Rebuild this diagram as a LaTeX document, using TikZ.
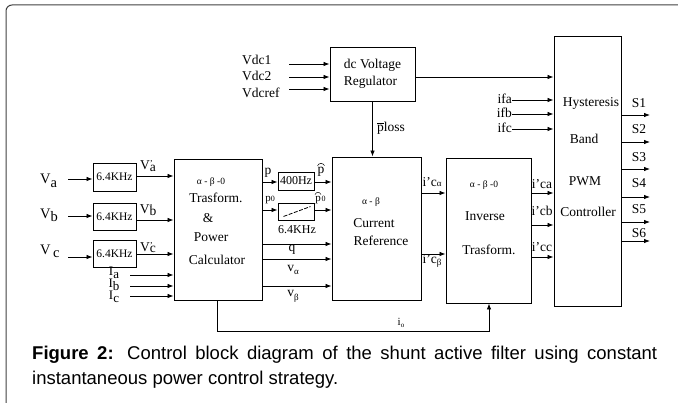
\documentclass[tikz,border=0pt]{standalone}
\usepackage{fontspec}
\usepackage{amsmath}
\setmainfont{Liberation Serif}
\newfontfamily\capfont{Liberation Sans}
\usetikzlibrary{arrows.meta}
\newcommand\dfont{\fontsize{13.5}{17}\selectfont}
\newcommand\sfontx{\fontsize{9.5}{11}\selectfont}
\begin{document}
\begin{tikzpicture}[x=1pt,y=-1pt,
  blk/.style={draw, line width=0.9pt, inner sep=0pt},
  lbl/.style={inner sep=0pt, font=\dfont},
  arr/.style={-{Latex[length=6pt,width=4.5pt]}, line width=0.8pt},
  ln/.style={line width=0.8pt},
  hat/.style={line width=0.5pt}]
\useasboundingbox (0,0) rectangle (678,403);
% frame
\draw[line width=1pt, black!75, rounded corners=6pt] (678,5) -- (6,5) -- (6,403);

% blocks
\node[blk, minimum width=85pt, minimum height=54pt, align=left, font=\dfont] (reg) at (372.5,74) {dc Voltage\\Regulator};
\node[blk, minimum width=67pt, minimum height=270pt] (pwm) at (587.5,171) {};
\node[blk, minimum width=88pt, minimum height=141pt] (ps) at (218,229.5) {};
\node[blk, minimum width=89pt, minimum height=143pt] (cr) at (376.5,228.5) {};
\node[blk, minimum width=85pt, minimum height=145pt] (inv) at (488.5,230.5) {};
\node[blk, minimum width=43pt, minimum height=28pt, font=\fontsize{11.5}{12}\selectfont] (fa) at (114.5,177) {6.4KHz};
\node[blk, minimum width=43pt, minimum height=27pt, font=\fontsize{11.5}{12}\selectfont] (fb) at (114.5,216.5) {6.4KHz};
\node[blk, minimum width=43pt, minimum height=27pt, font=\fontsize{11.5}{12}\selectfont] (fc) at (114.5,253.5) {6.4KHz};
\node[blk, minimum width=36pt, minimum height=18pt, font=\fontsize{12}{12}\selectfont] (hp) at (296,181) {400Hz};
\node[blk, minimum width=36pt, minimum height=17pt] (lp) at (296,211.5) {};
\draw[ln, dashed, dash pattern=on 4pt off 1.5pt] ([shift={(6,-4)}]lp.south west) -- ([shift={(-4,4)}]lp.north east);

% block texts
\node[lbl, font=\sfontx] (t1) at (211,182) {α - β -0};
\node[lbl] (t2) at (216,198) {Trasform.};
\node[lbl] (t3) at (208,218) {\&};
\node[lbl] (t4) at (211,237) {Power};
\node[lbl] (t5) at (217,260) {Calculator};
\node[lbl, font=\sfontx] (c1) at (371,202) {α - β};
\node[lbl] (c2) at (374,223) {Current};
\node[lbl] (c3) at (381,241) {Reference};
\node[lbl, font=\sfontx] (i1) at (484,185) {α - β -0};
\node[lbl] (i2) at (485,216) {Inverse};
\node[lbl] (i3) at (489,250) {Trasform.};
\node[lbl] (w1) at (591,103) {Hysteresis};
\node[lbl] (w2) at (584,139) {Band};
\node[lbl] (w3) at (585,181) {PWM};
\node[lbl] (w4) at (588,212) {Controller};

% top inputs
\node[lbl, anchor=west] (vdc1) at (242,60) {Vdc1};
\node[lbl, anchor=west] (vdc2) at (242,76) {Vdc2};
\node[lbl, anchor=west] (vdcr) at (242,93) {Vdcref};
\coordinate (s1) at (289,64);
\coordinate (s2) at (289,77);
\coordinate (s3) at (289,89);
\draw[arr] (s1) -- (s1 -| reg.west);
\draw[arr] (s2) -- (s2 -| reg.west);
\draw[arr] (s3) -- (s3 -| reg.west);
\coordinate (ro) at (reg.east |- 0,77);
\draw[arr] (ro) -- (ro -| pwm.west);
\draw[arr] (reg.south) -- (reg.south |- cr.north);
\node[lbl] (ploss) at (391,128) {$\overline{\text{p}}$loss};

% ifa ifb ifc
\node[lbl, anchor=east] (ifa) at (512,99) {ifa};
\node[lbl, anchor=east] (ifb) at (512,113) {ifb};
\node[lbl, anchor=east] (ifc) at (512,128) {ifc};
\coordinate (fa1) at (512,100);
\coordinate (fb1) at (512,114);
\coordinate (fc1) at (512,129);
\draw[arr] (fa1) -- (fa1 -| pwm.west);
\draw[arr] (fb1) -- (fb1 -| pwm.west);
\draw[arr] (fc1) -- (fc1 -| pwm.west);

% S outputs
\foreach \n/\ya/\yl in {1/115/103, 2/142/129, 3/169/157, 4/197/183, 5/222/209, 6/241/233}{
  \coordinate (so\n) at (650,\ya);
  \draw[arr] (so\n -| pwm.east) -- (so\n);
  \node[lbl] (sl\n) at (639,\yl) {S\n};
}

% left inputs
\node[lbl, anchor=west, font=\fontsize{14.5}{15}\selectfont] (va) at (40,181) {V\raisebox{-4pt}{a}};
\node[lbl, anchor=west, font=\fontsize{14.5}{15}\selectfont] (vb) at (40,215) {V\raisebox{-3pt}{b}};
\node[lbl, anchor=west, font=\fontsize{14.5}{15}\selectfont] (vc) at (40,251) {V\,\raisebox{-3pt}{c}};
\coordinate (ia) at (68,179);
\coordinate (ib) at (68,216);
\coordinate (ic) at (68,257);
\draw[arr] (ia) -- (ia -| fa.west);
\draw[arr] (ib) -- (ib -| fb.west);
\draw[arr] (ic) -- (ic -| fc.west);
\coordinate (oa) at (fa.east |- 0,176);
\coordinate (ob) at (fb.east |- 0,220);
\coordinate (oc) at (fc.east |- 0,254);
\draw[arr] (oa) -- (oa -| ps.west);
\draw[arr] (ob) -- (ob -| ps.west);
\draw[arr] (oc) -- (oc -| ps.west);
\node[lbl] (vpa) at (148,166) {V\rlap{\raisebox{3pt}{\small '}}\raisebox{-2pt}{a}};
\node[lbl] (vpb) at (148,210) {V\rlap{\raisebox{3pt}{\small '}}\raisebox{-2pt}{b}};
\node[lbl] (vpc) at (148,248) {V\rlap{\raisebox{3pt}{\small '}}\raisebox{-1pt}{c}};
\node[lbl, font=\fontsize{13}{13}\selectfont] (la) at (114,273) {I\raisebox{-3pt}{a}};
\node[lbl, font=\fontsize{13}{13}\selectfont] (lb) at (114,285) {I\raisebox{-3pt}{b}};
\node[lbl, font=\fontsize{13}{13}\selectfont] (lc) at (114,297) {I\raisebox{-3pt}{c}};
\coordinate (ja) at (130,275);
\coordinate (jb) at (130,286);
\coordinate (jc) at (130,296);
\draw[arr] (ja) -- (ja -| ps.west);
\draw[arr] (jb) -- (jb -| ps.west);
\draw[arr] (jc) -- (jc -| ps.west);

% transform -> filters -> current reference
\coordinate (pp) at (ps.east |- 0,182);
\draw[arr] (pp) -- (pp -| hp.west);
\draw[arr] (hp.east |- pp) -- (pp -| cr.west);
\coordinate (pz) at (ps.east |- 0,210);
\draw[arr] (pz) -- (pz -| lp.west);
\draw[arr] (lp.east |- pz) -- (pz -| cr.west);
\node[lbl] (lp1) at (268,173) {p};
\node[lbl] (lp2) at (321,172) {p};
\draw[hat] ([shift={(-3.5,-1.5)}]lp2.north) .. controls ([shift={(-2,-4.5)}]lp2.north) and ([shift={(2,-4.5)}]lp2.north) .. ([shift={(3.5,-1.5)}]lp2.north);
\node[lbl, font=\fontsize{11}{12}\selectfont] (lp3) at (270,200) {p\raisebox{0pt}{\fontsize{8}{9}\selectfont 0}};
\node[lbl, font=\fontsize{11}{12}\selectfont] (lp4) at (318,200) {p};
\node[lbl, font=\fontsize{8}{9}\selectfont, anchor=base west] (lp4z) at ([xshift=0.5pt]lp4.base east) {0};
\draw[hat] ([shift={(-3,-1.5)}]lp4.north) .. controls ([shift={(-1.5,-4.5)}]lp4.north) and ([shift={(1.5,-4.5)}]lp4.north) .. ([shift={(3,-1.5)}]lp4.north);
\node[lbl, font=\fontsize{12}{12}\selectfont] (lp5) at (297,230) {6.4KHz};
\coordinate (pq) at (ps.east |- 0,244);
\coordinate (pva) at (ps.east |- 0,259);
\coordinate (pvb) at (ps.east |- 0,286);
\draw[arr] (pq) -- (pq -| cr.west);
\draw[arr] (pva) -- (pva -| cr.west);
\draw[arr] (pvb) -- (pvb -| cr.west);
\node[lbl] (lq) at (292,250) {q};
\node[lbl] (lva) at (293,270) {v\raisebox{-3pt}{\small α}};
\node[lbl] (lvb) at (293,296) {v\raisebox{-4pt}{\small β}};

% current reference -> inverse
\coordinate (ca) at (cr.east |- 0,193);
\coordinate (cb) at (cr.east |- 0,254);
\draw[arr] (ca) -- (ca -| inv.west);
\draw[arr] (cb) -- (cb -| inv.west);
\node[lbl] (lca) at (432,182) {i'c\raisebox{0pt}{\small α}};
\node[lbl] (lcb) at (432,261) {i'c\raisebox{-2pt}{\small β}};

% inverse -> pwm
\coordinate (xa) at (inv.east |- 0,193);
\coordinate (xb) at (inv.east |- 0,225);
\coordinate (xc) at (inv.east |- 0,257);
\draw[arr] (xa) -- (xa -| pwm.west);
\draw[arr] (xb) -- (xb -| pwm.west);
\draw[arr] (xc) -- (xc -| pwm.west);
\node[lbl] (lxa) at (542,184) {i'ca};
\node[lbl] (lxb) at (542,211) {i'cb};
\node[lbl] (lxc) at (542,247) {i'cc};

% io feedback
\coordinate (io1) at (217,331);
\coordinate (io2) at (489,331);
\draw[arr] (ps.south -| io1) -- (io1) -- (io2) -- (io2 |- inv.south);
\node[lbl, font=\fontsize{11}{12}\selectfont] (lio) at (401,323) {i\raisebox{-2pt}{\fontsize{7}{8}\selectfont o}};

% caption
\node[anchor=north west, inner sep=0pt, text width=625pt, align=justify,
      font=\capfont\fontsize{18.5}{25}\selectfont] (cap) at (32,346)
  {\textbf{Figure 2:} Control block diagram of the shunt active filter using constant \mbox{instantaneous} power control strategy.};
\end{tikzpicture}
\end{document}
